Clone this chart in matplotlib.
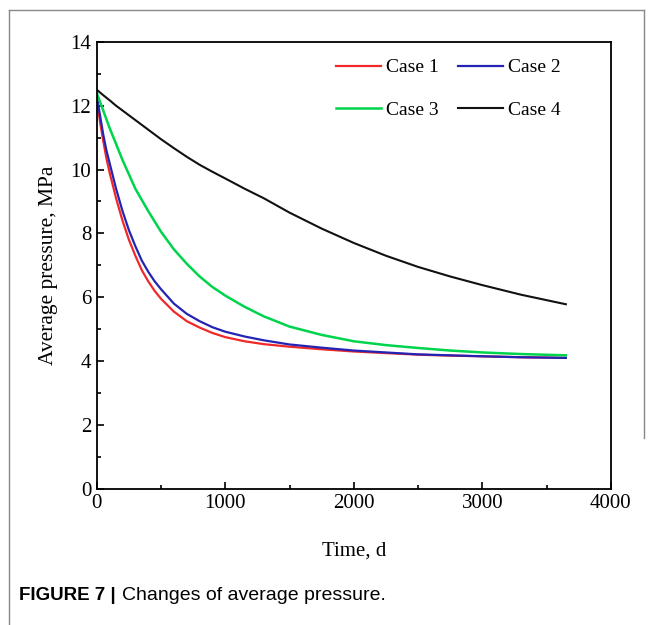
import matplotlib
matplotlib.use("Agg")

import matplotlib.pyplot as plt
from matplotlib.lines import Line2D
from matplotlib.ticker import MultipleLocator

plt.rcParams["font.family"] = ["Liberation Serif", "DejaVu Serif"]

# time (days) and average reservoir pressure (MPa) per case
t_fast = [0, 25, 50, 75, 100, 150, 200, 250, 300, 350, 400, 450, 500, 600, 700,
          800, 900, 1000, 1150, 1300, 1500, 1750, 2000, 2250, 2500, 2750, 3000,
          3300, 3650]
case1 = [12.2, 11.5, 10.9, 10.35, 9.9, 9.1, 8.4, 7.8, 7.3, 6.85, 6.5, 6.2, 5.95,
         5.55, 5.25, 5.05, 4.88, 4.75, 4.62, 4.53, 4.45, 4.37, 4.3, 4.25, 4.2,
         4.17, 4.15, 4.12, 4.1]
case2 = [12.3, 11.7, 11.1, 10.6, 10.2, 9.4, 8.7, 8.1, 7.6, 7.15, 6.8, 6.5, 6.25,
         5.8, 5.48, 5.25, 5.06, 4.92, 4.77, 4.65, 4.52, 4.42, 4.33, 4.27, 4.21,
         4.18, 4.15, 4.12, 4.1]

t_slow = [0, 50, 100, 150, 200, 250, 300, 400, 500, 600, 700, 800, 900, 1000,
          1150, 1300, 1500, 1750, 2000, 2250, 2500, 2750, 3000, 3300, 3650]
case3 = [12.4, 11.85, 11.3, 10.8, 10.3, 9.85, 9.4, 8.7, 8.05, 7.5, 7.05, 6.65,
         6.32, 6.05, 5.7, 5.4, 5.08, 4.82, 4.62, 4.5, 4.41, 4.33, 4.27, 4.22, 4.18]
case4 = [12.5, 12.33, 12.17, 12.0, 11.85, 11.7, 11.55, 11.25, 10.95, 10.67, 10.4,
         10.15, 9.93, 9.72, 9.4, 9.1, 8.65, 8.15, 7.7, 7.3, 6.95, 6.65, 6.38,
         6.08, 5.78]

labels = ["Case 1", "Case 2", "Case 3", "Case 4"]
colors = ["#f02828", "#2424b4", "#00d44c", "#111111"]

fig = plt.figure(figsize=(6.54, 6.25), dpi=100)
ax = fig.add_axes([0.148, 0.218, 0.786, 0.715])

l1, = ax.plot(t_fast, case1, color=colors[0], lw=1.6)
l2, = ax.plot(t_fast, case2, color=colors[1], lw=1.6)
l3, = ax.plot(t_slow, case3, color=colors[2], lw=1.8)
l4, = ax.plot(t_slow, case4, color=colors[3], lw=1.5)

ax.set_xlim(0, 4000)
ax.set_ylim(0, 14)
ax.xaxis.set_major_locator(MultipleLocator(1000))
ax.xaxis.set_minor_locator(MultipleLocator(500))
ax.yaxis.set_major_locator(MultipleLocator(2))
ax.yaxis.set_minor_locator(MultipleLocator(1))
ax.tick_params(which="both", direction="in", labelsize=15, width=1.2)
ax.tick_params(which="major", length=5, pad=4)
ax.tick_params(which="minor", length=3)
for s in ax.spines.values():
    s.set_linewidth(1.3)

ax.set_xlabel("Time, d", fontsize=15, labelpad=20)
ax.set_ylabel("Average pressure, MPa", fontsize=15.5, labelpad=9)

# legend filled row by row: Case 1 / Case 2 on top, Case 3 / Case 4 below
ax.legend([l1, l3, l2, l4], [labels[0], labels[2], labels[1], labels[3]],
          loc="upper left", bbox_to_anchor=(0.466, 0.962), ncol=2,
          frameon=False, fontsize=14, borderpad=0, borderaxespad=0,
          handlelength=2.3, handletextpad=0.25, columnspacing=1.0,
          labelspacing=1.28)

# outer frame and caption
fig.add_artist(Line2D([0.013, 0.013], [0, 0.984], color="#888888", lw=1.0))
fig.add_artist(Line2D([0.013, 0.985], [0.984, 0.984], color="#888888", lw=1.0))
fig.add_artist(Line2D([0.985, 0.985], [0.984, 0.30], color="#888888", lw=1.0))

cap = fig.text(0.029, 0.04, "FIGURE 7 |", fontsize=13.5, fontweight="bold",
               family="Liberation Sans")
fig.canvas.draw()
bb = cap.get_window_extent(renderer=fig.canvas.get_renderer())
x_next = (bb.x1 + 6) / fig.bbox.width
fig.text(x_next, 0.04, "Changes of average pressure.", fontsize=14,
         family="Liberation Sans")

fig.savefig("out.png", dpi=100)
